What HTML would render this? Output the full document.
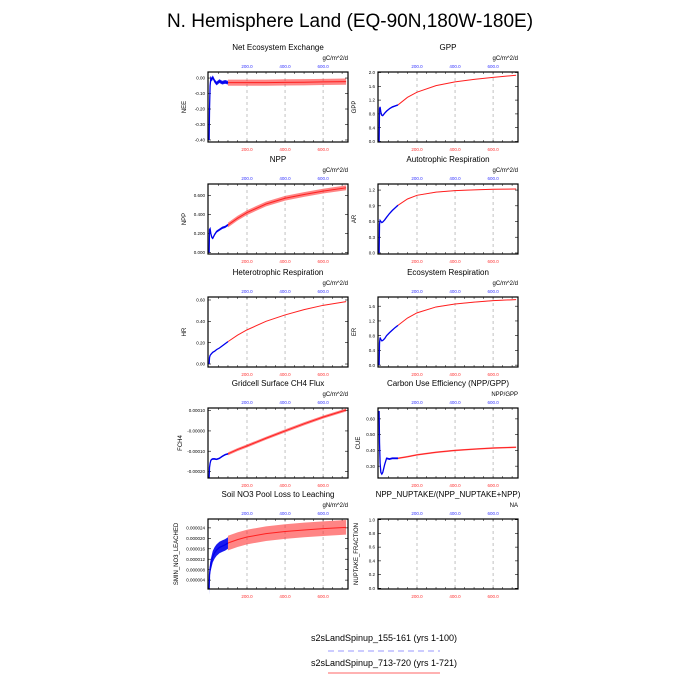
<!DOCTYPE html>
<html><head><meta charset="utf-8">
<style>
body{margin:0;background:#fff;}
svg{display:block;font-family:"Liberation Sans",sans-serif;}
</style></head>
<body>
<svg id="c" width="700" height="700" viewBox="0 0 700 700" xmlns="http://www.w3.org/2000/svg">
<text x="350" y="27" font-size="19" text-anchor="middle">N. Hemisphere Land (EQ-90N,180W-180E)</text>
<g>
<text x="384" y="641" font-size="9" text-anchor="middle">s2sLandSpinup_155-161 (yrs 1-100)</text>
<line x1="328" y1="651" x2="440" y2="651" stroke="#9999ff" stroke-width="1" stroke-dasharray="6,4"/>
<text x="384" y="666" font-size="9" text-anchor="middle">s2sLandSpinup_713-720 (yrs 1-721)</text>
<line x1="328" y1="673" x2="440" y2="673" stroke="#ff6666" stroke-width="1"/>
</g>
</svg>
<script>
// Years (x) for each series
const blueYears = [1, 3, 6, 10, 15, 20, 30, 40, 55, 70, 85, 100];
const redYears = [100, 150, 200, 300, 400, 500, 600, 721];
const xTicks = [200, 400, 600];

const titles = ["Net Ecosystem Exchange","GPP","NPP","Autotrophic Respiration","Heterotrophic Respiration","Ecosystem Respiration","Gridcell Surface CH4 Flux","Carbon Use Efficiency (NPP/GPP)","Soil NO3 Pool Loss to Leaching","NPP_NUPTAKE/(NPP_NUPTAKE+NPP)"];
const yLabels = ["NEE","GPP","NPP","AR","HR","ER","FCH4","CUE","SMIN_NO3_LEACHED","NUPTAKE_FRACTION"];
const units = ["gC/m^2/d","gC/m^2/d","gC/m^2/d","gC/m^2/d","gC/m^2/d","gC/m^2/d","gC/m^2/d","NPP/GPP","gN/m^2/d","NA"];
const yMins = [-0.413, -0.015, -0.015, -0.02, -0.028, -0.05, -0.000232, 0.225, 0.0000006, -0.01];
const yMaxs = [0.039, 2.015, 0.72, 1.316, 0.628, 1.85, 0.000113, 0.669, 0.0000274, 1.01];
const yTickVals = [
 [0,-0.1,-0.2,-0.3,-0.4],[0,0.4,0.8,1.2,1.6,2.0],[0,0.2,0.4,0.6],[0,0.3,0.6,0.9,1.2],[0,0.2,0.4,0.6],
 [0,0.4,0.8,1.2,1.6],[0.0001,0,-0.0001,-0.0002],[0.3,0.4,0.5,0.6],[0.000004,0.000008,0.000012,0.000016,0.00002,0.000024],[0,0.2,0.4,0.6,0.8,1.0]];
const yTickLabels = [
 ["0.00","-0.10","-0.20","-0.30","-0.40"],["0.0","0.4","0.8","1.2","1.6","2.0"],["0.000","0.200","0.400","0.600"],["0.0","0.3","0.6","0.9","1.2"],["0.00","0.20","0.40","0.60"],
 ["0.0","0.4","0.8","1.2","1.6"],["0.00010","-0.00000","-0.00010","-0.00020"],["0.30","0.40","0.50","0.60"],["0.000004","0.000008","0.000012","0.000016","0.000020","0.000024"],["0.0","0.2","0.4","0.6","0.8","1.0"]];
// blue series values (yrs 1-100)
const blueVals = [
 [-0.40,-0.20,-0.05,0.00,-0.01,0.005,-0.02,-0.035,-0.02,-0.03,-0.025,-0.03],
 [0.0,0.95,1.0,0.85,0.76,0.75,0.82,0.88,0.95,1.0,1.03,1.06],
 [0.0,0.24,0.25,0.20,0.16,0.15,0.19,0.22,0.24,0.26,0.27,0.29],
 [0.0,0.55,0.62,0.60,0.58,0.59,0.63,0.68,0.75,0.81,0.86,0.91],
 [0.0,0.06,0.08,0.09,0.10,0.11,0.12,0.135,0.15,0.17,0.19,0.21],
 [0.0,0.6,0.75,0.7,0.66,0.67,0.72,0.8,0.88,0.95,1.02,1.08],
 [-0.00023,-0.00018,-0.00016,-0.000145,-0.00014,-0.000138,-0.000138,-0.00014,-0.000135,-0.000125,-0.000117,-0.000113],
 [0.65,0.45,0.32,0.26,0.25,0.26,0.31,0.35,0.345,0.35,0.35,0.35],
 [0.0000006,0.000006,0.0000085,0.000010,0.0000115,0.000013,0.0000145,0.0000155,0.0000165,0.000017,0.0000175,0.0000182],
 []];
const blueBand = [0.012,0.02,0.012,0.01,0.004,0.01,0.000004,0.006,0.0000022,0];
// red series values (yrs 100-721)
const redVals = [
 [-0.03,-0.03,-0.03,-0.03,-0.028,-0.027,-0.025,-0.023],
 [1.06,1.28,1.43,1.62,1.73,1.80,1.86,1.92],
 [0.29,0.36,0.42,0.51,0.57,0.61,0.645,0.68],
 [0.91,1.03,1.10,1.16,1.19,1.205,1.215,1.22],
 [0.21,0.27,0.32,0.40,0.46,0.51,0.55,0.585],
 [1.08,1.28,1.42,1.58,1.66,1.71,1.75,1.78],
 [-0.000113,-0.000092,-0.000074,-0.000036,0.000000,0.000035,0.000068,0.000103],
 [0.35,0.36,0.372,0.388,0.40,0.408,0.415,0.42],
 [0.0000182,0.0000195,0.0000205,0.0000218,0.0000226,0.0000232,0.0000237,0.0000242],
 []];
const redBand = [0.02,0.006,0.025,0.006,0.002,0.008,0.0000075,0.005,0.0000028,0];

const NS="http://www.w3.org/2000/svg";
const svg=document.getElementById('c');
const boxTops=[72,72,184,184,297,297,408,408,519,519];
const boxH=70, boxW=140;
const yLabOff=[22,22,22,22,22,22,26,18,30,20];
function mk(tag,attrs,parent){const e=document.createElementNS(NS,tag);for(const k in attrs)e.setAttribute(k,attrs[k]);parent.appendChild(e);return e;}
for(let p=0;p<10;p++){
 const left = p%2===0?208:378, top=boxTops[p];
 const g=mk('g',{},svg);
 
 
 const xs=v=>left+(v+5)/736*boxW;
 const ys=v=>top+boxH-(v-yMins[p])/(yMaxs[p]-yMins[p])*boxH;
 const t=mk('text',{x:left+boxW/2,y:top-22,'font-size':8,'text-anchor':'middle'},g);t.textContent=titles[p];
 
 
 const u=mk('text',{x:left+boxW,y:top-12,'font-size':6,'text-anchor':'end'},g);u.textContent=units[p];
 
 
 const yl=mk('text',{x:0,y:0,'font-size':6,'text-anchor':'middle',transform:`translate(${left-yLabOff[p]},${top+boxH/2}) rotate(-90)`},g);yl.textContent=yLabels[p];
 
 
 xTicks.forEach(v=>{
  const l=mk('line',{x1:xs(v),x2:xs(v),y1:top,y2:top+boxH,stroke:'#999','stroke-width':0.6,'stroke-dasharray':'3,3'},g);
  
  
  const a=mk('text',{x:xs(v),y:top-4,'font-size':4.5,'text-anchor':'middle',fill:'#3333ff'},g);a.textContent=v.toFixed(1);
  
  
  const b=mk('text',{x:xs(v),y:top+boxH+9,'font-size':4.5,'text-anchor':'middle',fill:'#ff3333'},g);b.textContent=v.toFixed(1);
  
  
 });
 for(let v=50;v<=700;v+=50){
  mk('line',{x1:xs(v),x2:xs(v),y1:top,y2:top+2,stroke:'#000','stroke-width':0.5},g);
  mk('line',{x1:xs(v),x2:xs(v),y1:top+boxH,y2:top+boxH-2,stroke:'#000','stroke-width':0.5},g);
 }
 yTickVals[p].forEach((v,i)=>{
  const y=ys(v);
  mk('line',{x1:left,x2:left+3,y1:y,y2:y,stroke:'#000','stroke-width':0.6},g);
  mk('line',{x1:left+boxW,x2:left+boxW-3,y1:y,y2:y,stroke:'#000','stroke-width':0.6},g);
  const tl=mk('text',{x:left-3,y:y+1.6,'font-size':4.5,'text-anchor':'end'},g);tl.textContent=yTickLabels[p][i];
  
  
 });
 function band(years,vals,bw,color,opac,lw,name){
  if(!vals.length)return;
  const up=years.map((x,i)=>xs(x)+','+ys(vals[i]+bw)).join(' ');
  const dn=years.map((x,i)=>xs(x)+','+ys(vals[i]-bw)).reverse().join(' ');
  const pg=mk('polygon',{points:up+' '+dn,fill:color,'fill-opacity':opac},g);
  
  
  const pl=mk('polyline',{points:years.map((x,i)=>xs(x)+','+ys(vals[i])).join(' '),fill:'none',stroke:color,'stroke-width':lw},g);
  
  
 }
 band(redYears,redVals[p],redBand[p],'#ff2020',0.55,1,'red-series');
 band(blueYears,blueVals[p],blueBand[p],'#0000ee',0.9,1.3,'blue-series');
 const r=mk('rect',{x:left,y:top,width:boxW,height:boxH,fill:'none',stroke:'#000','stroke-width':1.2},g);
 
 
}
</script>
</body></html>
